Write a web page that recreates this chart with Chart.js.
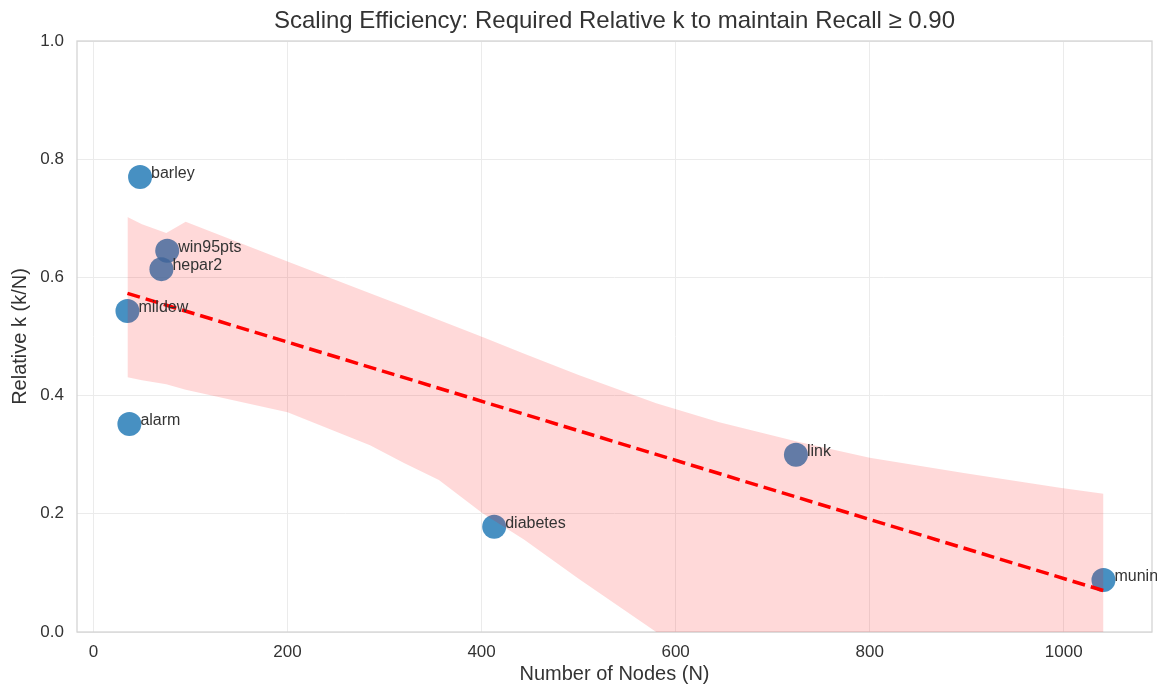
<!DOCTYPE html>
<html>
<head>
<meta charset="utf-8">
<script src="https://cdn.jsdelivr.net/npm/chart.js@4.4.1/dist/chart.umd.min.js"></script>
<style>
  html, body { margin: 0; padding: 0; background: #fff; }
  #wrap { width: 1157px; height: 684px; }
</style>
</head>
<body>
<div id="wrap"><canvas id="chart"></canvas></div>
<script>
// networks and their scaling numbers
const networks = ["barley", "win95pts", "hepar2", "mildew", "alarm", "diabetes", "link", "munin"];
const nodeCounts = [48, 76, 70, 35, 37, 413, 724, 1041];
const relativeK = [0.770, 0.645, 0.614, 0.543, 0.352, 0.178, 0.300, 0.088];

// trend line end points
const trendX = [35, 1041];
const trendY = [0.573, 0.070];

// confidence band (upper/lower edges)
const bandX = [35, 50, 75, 95, 200, 285, 320, 356, 401, 444, 500, 580, 645, 726, 800, 897, 996, 1041];
const bandUpper = [0.702, 0.690, 0.675, 0.694, 0.627, 0.573, 0.551, 0.528, 0.499, 0.471, 0.435, 0.387, 0.355, 0.322, 0.295, 0.269, 0.244, 0.234];
const bandLower = [0.431, 0.426, 0.419, 0.410, 0.372, 0.316, 0.286, 0.257, 0.201, 0.156, 0.090, 0.0, -0.07, -0.15, -0.22, -0.31, -0.40, -0.44];

const xTicks = [0, 200, 400, 600, 800, 1000];
const yTicks = [0, 0.2, 0.4, 0.6, 0.8, 1.0];

const titleText = "Scaling Efficiency: Required Relative k to maintain Recall \u2265 0.90";
const textColor = "#333333";
const gridColor = "#ebebeb";
const fontFamily = "'Liberation Sans', Arial, sans-serif";

const toXY = (xs, ys) => xs.map((x, i) => ({ x, y: ys[i] }));

const pointLabels = {
  id: "pointLabels",
  afterDatasetsDraw(chart) {
    const ctx = chart.ctx;
    const meta = chart.getDatasetMeta(0);
    ctx.save();
    ctx.font = "16px " + fontFamily;
    ctx.fillStyle = textColor;
    ctx.textBaseline = "alphabetic";
    ctx.textAlign = "left";
    meta.data.forEach((pt, i) => {
      ctx.fillText(networks[i], pt.x + 11, pt.y + 1);
    });
    ctx.restore();
  },
};

// title centred over the plot area, plus the full frame round it
const frame = {
  id: "frame",
  beforeDatasetsDraw(chart) {
    const { ctx, chartArea: a } = chart;
    ctx.save();
    ctx.strokeStyle = "#d4d4d4";
    ctx.lineWidth = 1.3;
    ctx.strokeRect(a.left, a.top, a.right - a.left, a.bottom - a.top);
    ctx.font = "24px " + fontFamily;
    ctx.fillStyle = textColor;
    ctx.textAlign = "center";
    ctx.textBaseline = "middle";
    ctx.fillText(titleText, (a.left + a.right) / 2, 21);
    ctx.restore();
  },
};

new Chart(document.getElementById("chart"), {
  type: "scatter",
  data: {
    datasets: [
      {
        data: toXY(nodeCounts, relativeK),
        backgroundColor: "rgba(31,119,180,0.82)",
        borderWidth: 0,
        pointRadius: 12,
        pointHoverRadius: 12,
        order: 3,
      },
      {
        type: "line",
        data: toXY(bandX, bandUpper),
        borderWidth: 0,
        pointRadius: 0,
        backgroundColor: "rgba(255,0,0,0.15)",
        fill: 2,
        tension: 0,
        order: 2,
      },
      {
        type: "line",
        data: toXY(bandX, bandLower),
        borderWidth: 0,
        pointRadius: 0,
        fill: false,
        tension: 0,
        order: 2,
      },
      {
        type: "line",
        data: toXY(trendX, trendY),
        borderColor: "#ff0000",
        borderWidth: 3.5,
        borderDash: [13, 6],
        pointRadius: 0,
        fill: false,
        order: 1,
      },
    ],
  },
  options: {
    responsive: true,
    maintainAspectRatio: false,
    animation: false,
    events: [],
    layout: { autoPadding: false, padding: { left: 0, right: 5, top: 41, bottom: 0 } },
    plugins: {
      legend: { display: false },
      tooltip: { enabled: false },
      title: { display: false },
    },
    scales: {
      x: {
        type: "linear",
        min: -17,
        max: 1091,
        afterBuildTicks: (s) => { s.ticks = xTicks.map((v) => ({ value: v })); },
        afterFit: (s) => { s.height = 52; s.paddingLeft = 0; s.paddingRight = 0; },
        grid: { color: gridColor, lineWidth: 1, drawTicks: false },
        border: { display: false },
        ticks: {
          color: textColor,
          padding: 10,
          font: { family: fontFamily, size: 17 },
          callback: (v) => String(v),
        },
        title: {
          display: true,
          text: "Number of Nodes (N)",
          color: textColor,
          font: { family: fontFamily, size: 20 },
          padding: { top: 0, bottom: -2 },
        },
      },
      y: {
        min: 0,
        max: 1,
        afterBuildTicks: (s) => { s.ticks = yTicks.map((v) => ({ value: v })); },
        afterFit: (s) => { s.width = 77; s.paddingTop = 0; s.paddingBottom = 0; },
        grid: { color: gridColor, lineWidth: 1, drawTicks: false },
        border: { display: false },
        ticks: {
          color: textColor,
          padding: 13,
          font: { family: fontFamily, size: 17 },
          callback: (v) => v.toFixed(1),
        },
        title: {
          display: true,
          text: "Relative k (k/N)",
          color: textColor,
          font: { family: fontFamily, size: 20 },
          padding: { top: 8, bottom: 0 },
        },
      },
    },
  },
  plugins: [pointLabels, frame],
});
</script>
</body>
</html>
